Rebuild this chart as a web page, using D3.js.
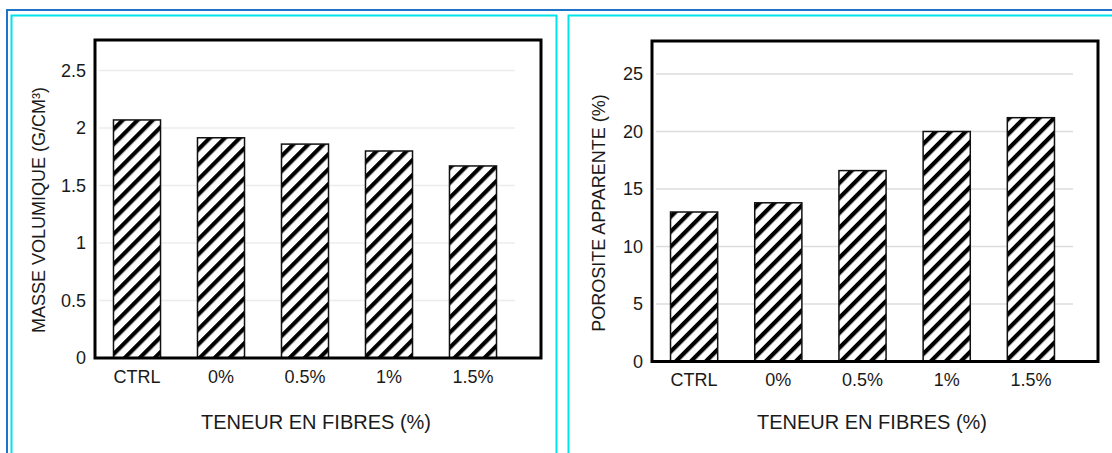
<!DOCTYPE html>
<html><head><meta charset="utf-8">
<script src="https://cdn.jsdelivr.net/npm/d3@7"></script>
<style>
html,body{margin:0;padding:0;background:#fff;}
svg{display:block;font-family:"Liberation Sans",Arial,sans-serif;}
</style></head>
<body>
<svg id="chart" width="1112" height="453"></svg>
<script>
const categories = ["CTRL", "0%", "0.5%", "1%", "1.5%"];
const densityValues = [2.07, 1.915, 1.86, 1.80, 1.67];
const porosityValues = [13.0, 13.8, 16.6, 20.0, 21.2];
const densityTicks = [0, 0.5, 1, 1.5, 2, 2.5];
const porosityTicks = [0, 5, 10, 15, 20, 25];
const xTitle = "TENEUR EN FIBRES (%)";
const densityTitle = "MASSE VOLUMIQUE (G/CM³)";
const porosityTitle = "POROSITE APPARENTE (%)";

const svg = d3.select("#chart");

// hatch pattern
const defs = svg.append("defs");
const pat = defs.append("pattern").attr("id","hatch").attr("patternUnits","userSpaceOnUse")
  .attr("width",10.6).attr("height",10.6).attr("patternTransform","rotate(45)");
pat.append("rect").attr("width",10.6).attr("height",10.6).attr("fill","#fff");
pat.append("rect").attr("x",0).attr("y",0).attr("width",4.2).attr("height",10.6).attr("fill","#000");

// decorative frames
svg.append("line").attr("x1",6).attr("x2",1112).attr("y1",10).attr("y2",10).attr("stroke","#1f73c9").attr("stroke-width",2);
svg.append("line").attr("x1",7).attr("x2",7).attr("y1",9).attr("y2",453).attr("stroke","#1f73c9").attr("stroke-width",2);
svg.append("path").attr("d","M11.5,453 V15.5 H556.5 V453").attr("fill","none").attr("stroke","#00e3ec").attr("stroke-width",2);
svg.append("path").attr("d","M568.5,453 V15.5 H1112").attr("fill","none").attr("stroke","#00e3ec").attr("stroke-width",2);

function panel(cfg){
  const g = svg.append("g");
  const x = d3.scaleBand().domain(categories).range([cfg.left, cfg.gridRight]).paddingInner(0.44).paddingOuter(0.22);
  const y = d3.scaleLinear().domain([0, cfg.max]).range([cfg.bottom, cfg.bottom - cfg.pxPerUnit*cfg.max]);
  // gridlines
  g.append("g").selectAll("line").data(cfg.ticks.filter(t=>t>0)).join("line")
    .attr("x1",cfg.left+4).attr("x2",cfg.gridRight).attr("y1",d=>y(d)).attr("y2",d=>y(d))
    .attr("stroke",cfg.gridColor).attr("stroke-width",1.5);
  // bars
  g.append("g").selectAll("rect").data(cfg.values).join("rect")
    .attr("x",(d,i)=>x(categories[i])).attr("width",x.bandwidth())
    .attr("y",d=>y(d)).attr("height",d=>y(0)-y(d))
    .attr("fill","url(#hatch)").attr("stroke","#111").attr("stroke-width",1.5);
  // frame
  g.append("rect").attr("x",cfg.left).attr("y",cfg.top).attr("width",cfg.right-cfg.left).attr("height",cfg.bottom-cfg.top)
    .attr("fill","none").attr("stroke","#000").attr("stroke-width",3);
  // y axis
  const ya = d3.axisLeft(y).tickValues(cfg.ticks).tickSize(0).tickPadding(9).tickFormat(d=>String(d));
  const yg = g.append("g").attr("transform",`translate(${cfg.left},0)`).call(ya);
  yg.attr("font-size",18).attr("font-family","Liberation Sans, Arial, sans-serif");
  yg.select(".domain").remove();
  yg.selectAll("text").attr("fill","#1a1a1a");
  // x axis
  const xa = d3.axisBottom(x).tickSize(0).tickPadding(12);
  const xg = g.append("g").attr("transform",`translate(0,${cfg.bottom})`).call(xa);
  xg.attr("font-size",18).attr("font-family","Liberation Sans, Arial, sans-serif");
  xg.select(".domain").remove();
  xg.selectAll("text").attr("fill","#1a1a1a");
  // titles
  g.append("text").attr("x",cfg.xTitleX).attr("y",429).attr("text-anchor","middle")
    .attr("font-size",20).attr("fill","#1a1a1a").text(xTitle);
  g.append("text").attr("transform",`translate(${cfg.yTitleX},${cfg.yTitleY}) rotate(-90)`).attr("text-anchor","middle")
    .attr("font-size",18).attr("fill","#1a1a1a").text(cfg.yTitle);
}

panel({left:95, right:541, gridRight:515, top:40, bottom:358, max:2.5, pxPerUnit:115,
  values:densityValues, ticks:densityTicks, gridColor:"#ececec", yTitle:densityTitle,
  xTitleX:316, yTitleX:45, yTitleY:210});
panel({left:652, right:1098, gridRight:1073, top:41, bottom:361.5, max:25, pxPerUnit:11.5,
  values:porosityValues, ticks:porosityTicks, gridColor:"#dcdcdc", yTitle:porosityTitle,
  xTitleX:872, yTitleX:605, yTitleY:213});
</script>
</body></html>
